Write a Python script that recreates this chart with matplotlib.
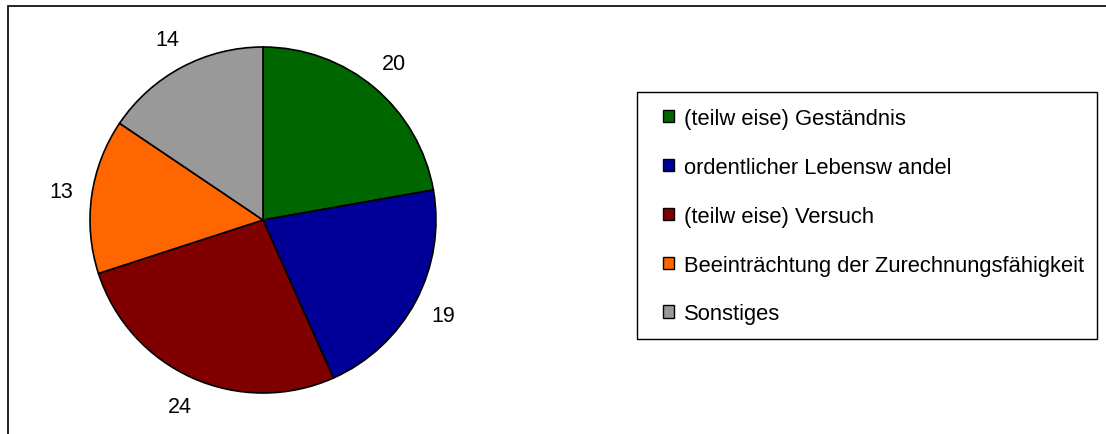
import matplotlib
matplotlib.use("Agg")
import matplotlib.pyplot as plt
from matplotlib.patches import Rectangle, Patch

categories = ["(teilw eise) Geständnis", "ordentlicher Lebensw andel",
              "(teilw eise) Versuch", "Beeinträchtung der Zurechnungsfähigkeit",
              "Sonstiges"]
values = [20, 19, 24, 13, 14]
colors = ["#006600", "#000099", "#800000", "#FF6600", "#999999"]

plt.rcParams['font.family'] = ['Liberation Sans', 'DejaVu Sans']

W, H = 1106, 435
fig = plt.figure(figsize=(W / 100, H / 100), dpi=100)

# outer frame
fig.patches.append(Rectangle((8 / W, -0.1), 1.2, (H - 7) / H + 0.1,
                             transform=fig.transFigure, fill=False,
                             edgecolor="black", linewidth=1.2, clip_on=False))
# legend frame
fig.patches.append(Rectangle((637 / W, (H - 340) / H), 460 / W, 247 / H,
                             transform=fig.transFigure, fill=False,
                             edgecolor="black", linewidth=1.0))

cx, cy, r = 263, 221, 173
ax = fig.add_axes([(cx - r) / W, (H - cy - r) / H, 2 * r / W, 2 * r / H])
wedges, texts = ax.pie(values, colors=colors, startangle=90, counterclock=False,
                       labels=[str(v) for v in values], labeldistance=1.18,
                       wedgeprops=dict(edgecolor="black", linewidth=1.2),
                       textprops=dict(fontsize=15.5, color="black"))
for t in texts:
    t.set_horizontalalignment("center")
    t.set_verticalalignment("center")
ax.set_xlim(-1, 1)
ax.set_ylim(-1, 1)
ax.set_aspect("equal")
ax.axis("off")

handles = [Patch(facecolor=c, edgecolor="black", linewidth=1) for c in colors]
fs = 15.8
leg = fig.legend(handles, categories, loc="upper left",
                 bbox_to_anchor=(663 / W, (H - 109) / H),
                 fontsize=fs, frameon=False,
                 handlelength=0.5, handleheight=0.5, handletextpad=0.45,
                 labelspacing=1.27, borderpad=0, borderaxespad=0)

fig.savefig("out.png", dpi=100, facecolor="white")
